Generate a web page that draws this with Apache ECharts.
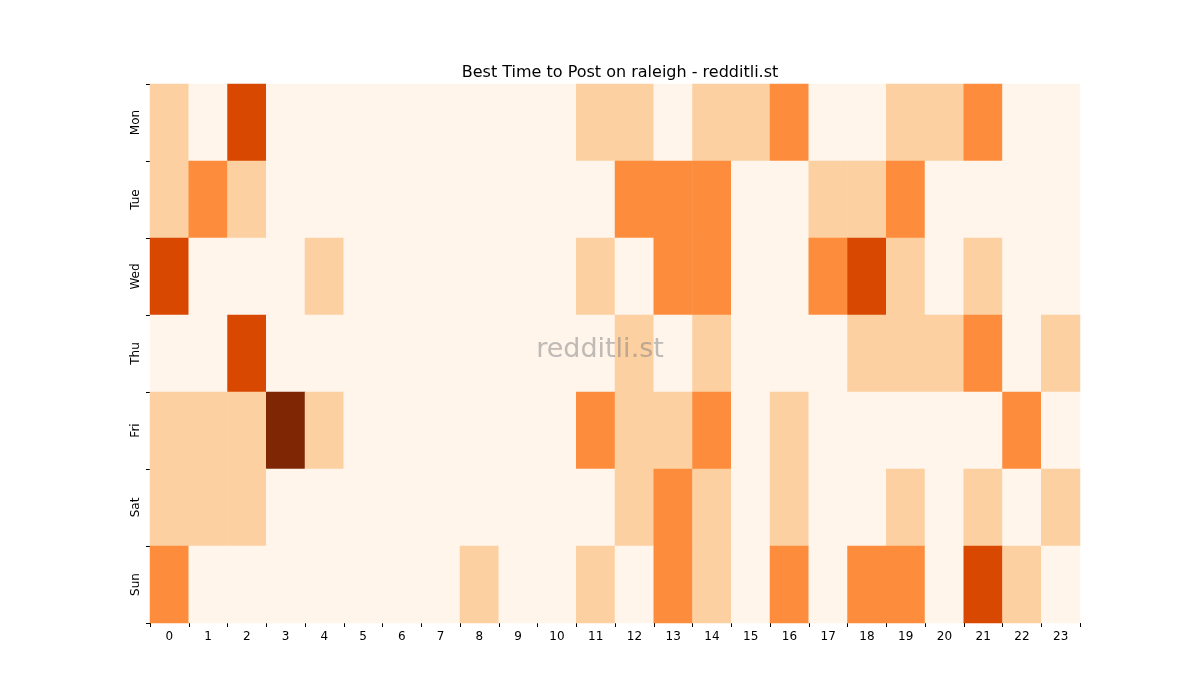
<!DOCTYPE html>
<html><head><meta charset="utf-8">
<script src="https://cdn.jsdelivr.net/npm/echarts@6/dist/echarts.min.js"></script>
<style>html,body{margin:0;background:#fff}#c{width:1200px;height:700px}</style>
</head><body><div id="c"></div>
<script>
const hours = Array.from({length:24},(_,i)=>String(i));
const days = ['Mon','Tue','Wed','Thu','Fri','Sat','Sun'];
const mon = [1,0,3,0,0,0,0,0,0,0,0,1,1,0,1,1,2,0,0,1,1,2,0,0];
const tue = [1,2,1,0,0,0,0,0,0,0,0,0,2,2,2,0,0,1,1,2,0,0,0,0];
const wed = [3,0,0,0,1,0,0,0,0,0,0,1,0,2,2,0,0,2,3,1,0,1,0,0];
const thu = [0,0,3,0,0,0,0,0,0,0,0,0,1,0,1,0,0,0,1,1,1,2,0,1];
const fri = [1,1,1,4,1,0,0,0,0,0,0,2,1,1,2,0,1,0,0,0,0,0,2,0];
const sat = [1,1,1,0,0,0,0,0,0,0,0,0,1,2,1,0,1,0,0,1,0,1,0,1];
const sun = [2,0,0,0,0,0,0,0,1,0,0,1,0,2,1,0,2,0,2,2,0,3,1,0];
const rows = [mon,tue,wed,thu,fri,sat,sun];
const data = [];
rows.forEach((r,y)=>r.forEach((v,x)=>data.push([x,y,v])));
const chart = echarts.init(document.getElementById('c'));
const txt = {color:'#000',fontFamily:'DejaVu Sans',fontSize:12};
chart.setOption({
  animation:false,
  title:{text:'Best Time to Post on raleigh - redditli.st',left:615,textAlign:'center',top:60,
    textStyle:{fontFamily:'DejaVu Sans',fontSize:16,fontWeight:'normal',color:'#000'}},
  grid:{left:150,right:120,top:84,bottom:77},
  xAxis:{type:'category',data:hours,axisLabel:txt,axisTick:{show:true,length:4,lineStyle:{color:'#000'}},
    axisLine:{show:false},splitLine:{show:false}},
  yAxis:{type:'category',data:days,inverse:true,axisLabel:Object.assign({rotate:90},txt),
    axisTick:{show:true,length:4,lineStyle:{color:'#000'}},axisLine:{show:false}},
  visualMap:{show:false,type:'piecewise',dimension:2,
    pieces:[{value:0,color:'#fff5eb'},{value:1,color:'#fdd0a2'},{value:2,color:'#fd8d3c'},{value:3,color:'#d94801'},{value:4,color:'#7f2704'}]},
  series:[{type:'heatmap',data:data,itemStyle:{borderWidth:0}}],
  graphic:[{type:'text',left:'center',top:336,z:100,style:{text:'redditli.st',x:0,fontSize:27,fontFamily:'DejaVu Sans',fill:'rgba(128,128,128,0.5)'},position:[615,0]}]
});
</script></body></html>
